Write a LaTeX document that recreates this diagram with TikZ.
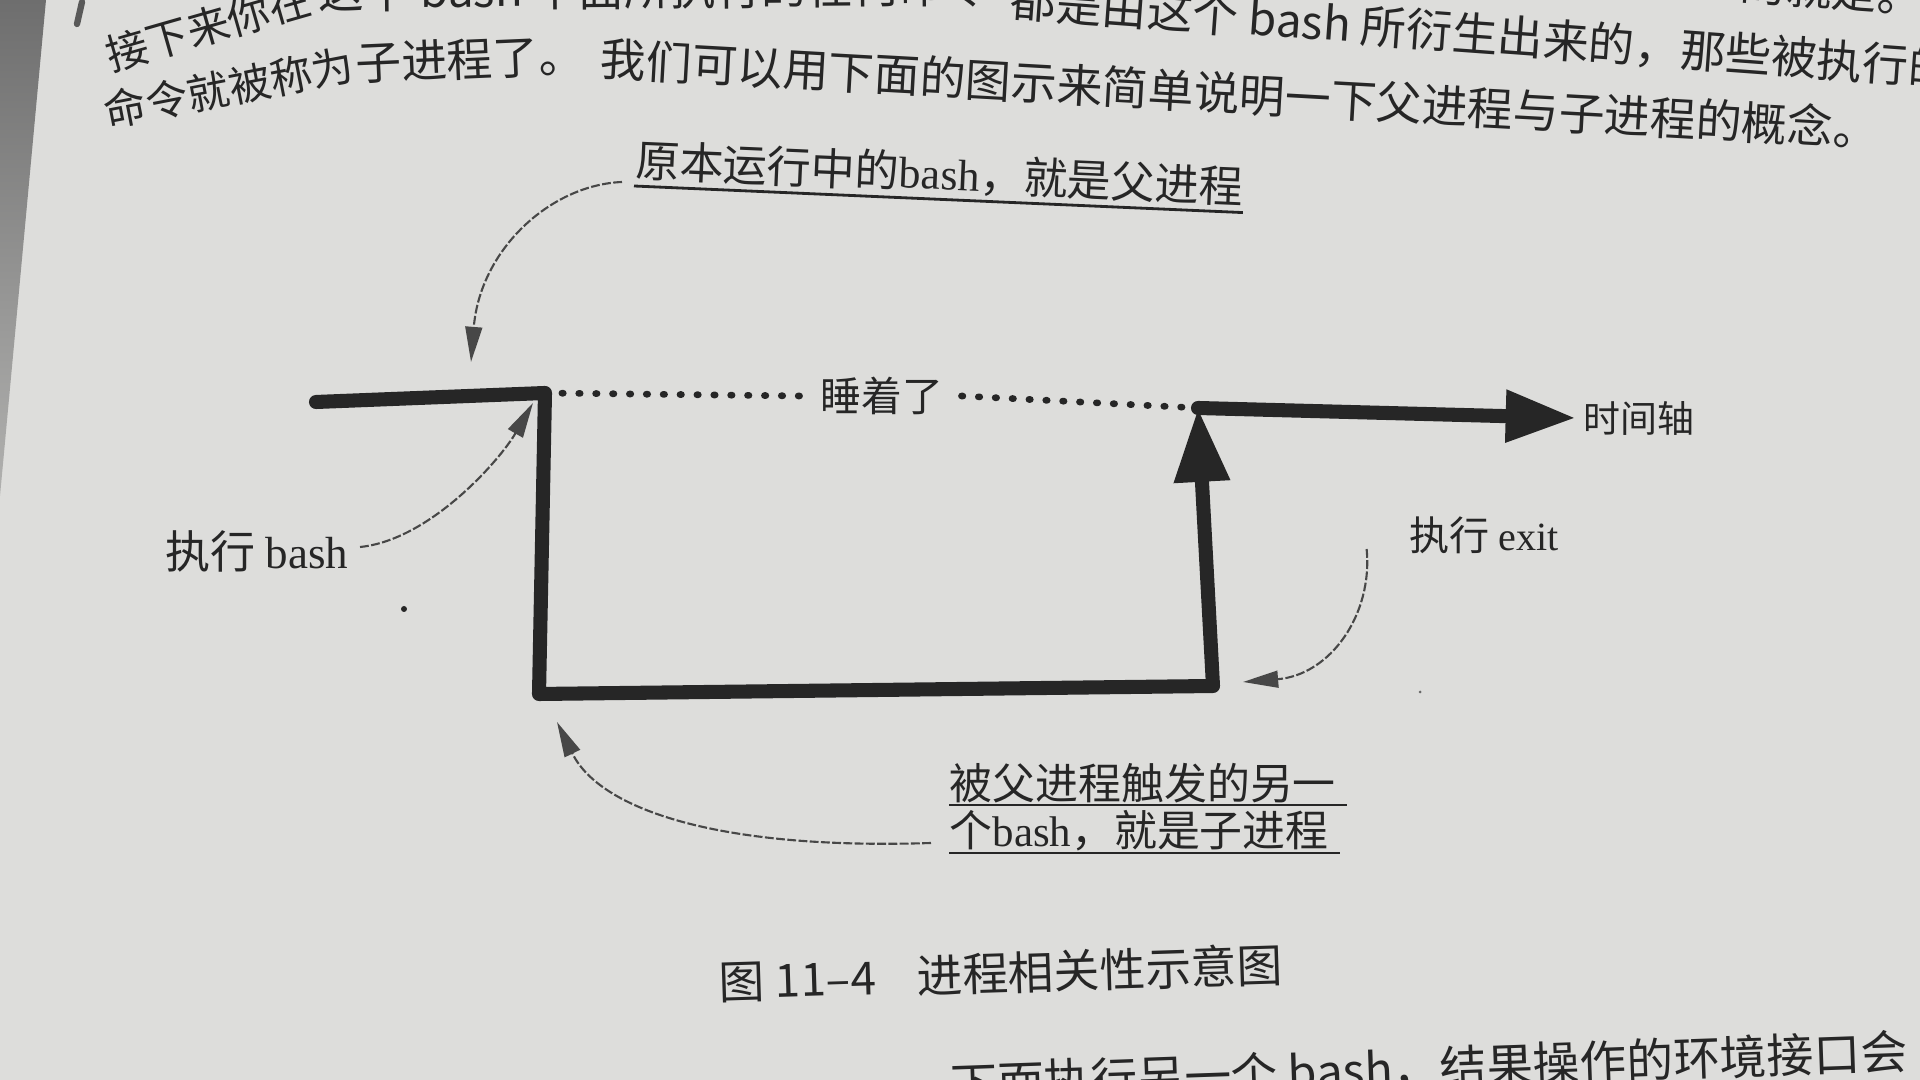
\documentclass[tikz,border=0pt]{standalone}
\usepackage{fontspec}
\setmainfont{Noto Sans CJK SC}
\newfontfamily\serfont{Liberation Serif}
\usetikzlibrary{arrows.meta,calc}
\definecolor{paper}{RGB}{221,221,219}
\definecolor{ink}{RGB}{38,38,38}
\definecolor{edge}{RGB}{110,110,110}
\begin{document}
\begin{tikzpicture}[x=0.01cm,y=-0.01cm,
  thickline/.style={line width=4pt, draw=ink, line cap=round, line join=round},
  dotline/.style={line width=1.9pt, draw=ink, line cap=round, dash pattern=on 0.4pt off 4.4pt},
  thinarrow/.style={line width=0.6pt, draw=ink!85, dash pattern=on 2.5pt off 0.7pt,
     -{Triangle[length=10pt,width=4.8pt]}},
  lab/.style={text=ink, inner sep=2pt, font=\fontsize{12.5}{14}\selectfont},
  ulab/.style={lab, inner xsep=0pt, inner ysep=1.2pt, anchor=south west},
  clab/.style={ulab, inner ysep=0.4pt, font=\fontsize{12.2}{14}\selectfont},
  uline/.style={line width=0.8pt, draw=ink},
  body/.style={text=ink, inner sep=0pt, anchor=west, font=\fontsize{13}{15}\selectfont},
  bodysm/.style={body, font=\fontsize{12}{14}\selectfont},
]
\useasboundingbox (0,0) rectangle (1920,1080);
\clip (0,0) rectangle (1920,1080);
\fill[paper] (0,0) rectangle (1920,1080);
\shade[top color=edge, bottom color=paper!80!black] (0,0) -- (46,0) -- (0,496) -- cycle;
\draw[line width=1.8pt, gray!70!black, line cap=round] (82,2) -- (77,24);

% page text
\node[body, anchor=east, rotate=-4] (p0) at (1924,-4) {被称为 PID 的就是。};
\node[bodysm, rotate=16] (p1a) at (106,56) {接下来你在};
\node[body, rotate=0.5] (p1b) at (318,-9) {这个 bash 下面所执行的任何命令};
\node[body, rotate=-4.2] (p1c) at (1010,0) {都是由这个 bash 所衍生出来的，那些被执行的};
\node[bodysm, rotate=11] (p2a) at (104,112) {命令就被称为};
\node[body, rotate=2.5] (p2b) at (355,64) {子进程了。};
\node[body, rotate=-3.2] (p2c) at (600,58) {我们可以用下面的图示来简单说明一下父进程与子进程的概念。};
\node[body, rotate=2, font=\fontsize{13.3}{16}\selectfont] (p3) at (950,1085) {下面执行另一个 bash，结果操作的环境接口会};

% main time line
\coordinate (start) at (316,402);
\coordinate (c1) at (545,393);
\coordinate (c2) at (539,694);
\coordinate (c3) at (1213,686);
\coordinate (c4) at (1198,408);
\node[lab, font=\fontsize{10.5}{12}\selectfont, anchor=west, inner xsep=2pt] (axis) at (1576,418) {时间轴};
\node[lab, font=\fontsize{11.6}{13}\selectfont, inner xsep=5pt] (sleep) at (882,396) {睡着了};

\draw[thickline, -{Triangle[length=21pt,width=15pt]}] (start) -- (c1) -- (c2) -- (c3) -- (c4);
\draw[thickline, -{Triangle[length=20pt,width=14pt]}] (c4) -- (axis.west);
\draw[dotline] (c1) -- (sleep.west);
\draw[dotline] (sleep.east) -- (c4);

% parent label
\node[ulab, rotate=-2.5] (parent) at (634,186) {原本运行中的{\serfont bash}，就是父进程};
\draw[uline] (parent.south west) -- (parent.south east);
\coordinate (a1e) at (471,362);
\draw[thinarrow] ($(parent.south west)+(-12,-4)$) .. controls (550,185) and (480,250) .. (a1e);

% run bash
\node[lab, font=\fontsize{12.8}{14}\selectfont] (runbash) at (257,551) {执行 {\serfont bash}};
\coordinate (a2e) at (533,403);
\draw[thinarrow] ($(runbash.east)+(4,-4)$) .. controls (430,540) and (500,460) .. (a2e);

% run exit
\node[lab, font=\fontsize{11.4}{13}\selectfont] (runexit) at (1484,535) {执行 {\serfont exit}};
\coordinate (a3e) at (1243,682);
\draw[thinarrow] ($(runexit.west)+(-35,14)$) .. controls (1373,615) and (1330,675) .. (a3e);

% child label
\node[clab] (child1) at (949,805) {被父进程触发的另一};
\node[clab] (child2) at (949,853) {个{\serfont bash}，就是子进程};
\draw[uline] (child1.south west) -- ([xshift=3pt]child1.south east);
\draw[uline] (child2.south west) -- ([xshift=3pt]child2.south east);
\coordinate (a4e) at (557,722);
\draw[thinarrow] ($(child2.south west)+(-18,-10)$) .. controls (720,850) and (600,810) .. (a4e);

% caption
\node[text=ink, font=\fontsize{13}{15}\selectfont, rotate=1.8] (caption) at (1001,973) {图 11–4\hspace{0.9em}进程相关性示意图};

% specks
\fill[ink] (404,609) circle (3);
\fill[ink!70] (1420,692) circle (1.5);
\end{tikzpicture}
\end{document}
